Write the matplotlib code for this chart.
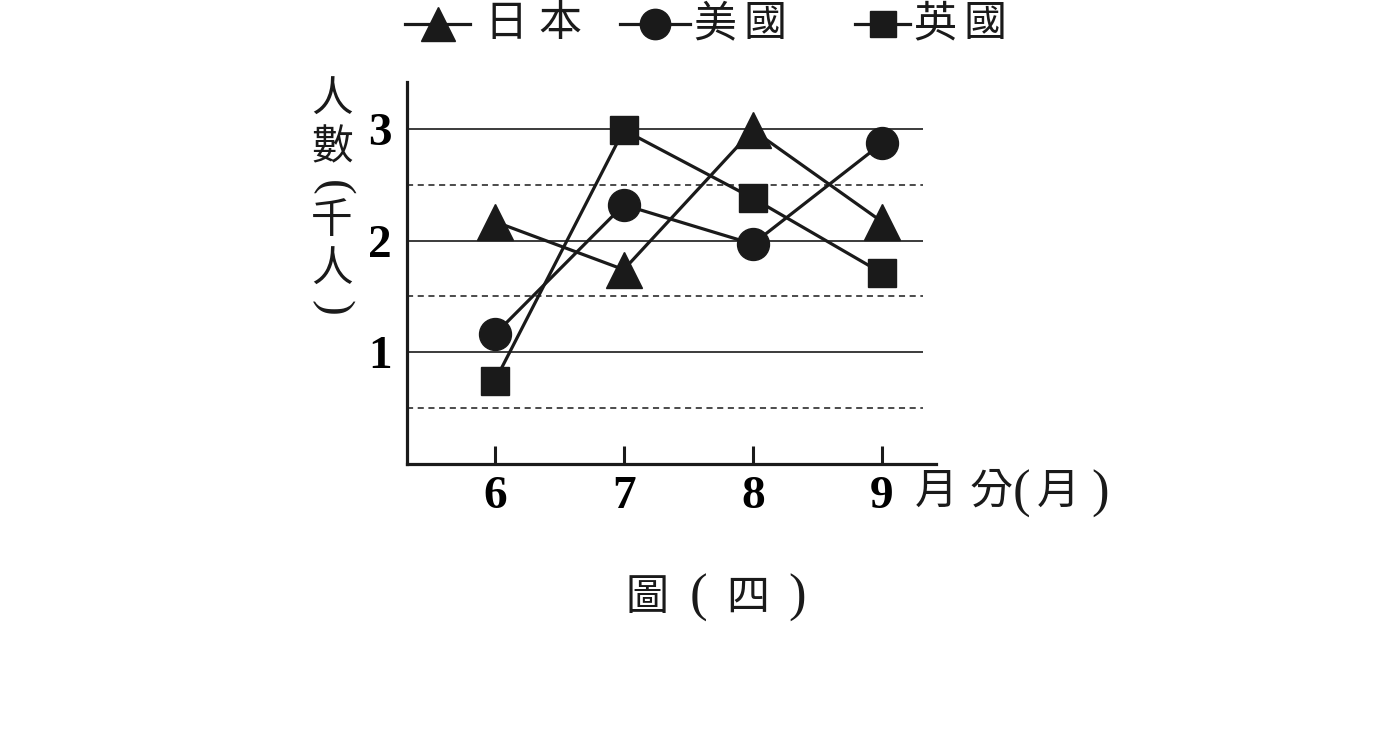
import matplotlib.pyplot as plt
from matplotlib.lines import Line2D

months = [6, 7, 8, 9]
japan = [2.17, 1.74, 2.99, 2.17]
usa = [1.16, 2.32, 1.97, 2.87]
uk = [0.74, 2.99, 2.38, 1.71]

names = ['日本', '美國', '英國']
solid_levels = [1, 2, 3]
dash_levels = [0.5, 1.5, 2.5]

ink = '#1a1a1a'
cjk = ['Noto Sans CJK TC', 'DejaVu Sans']
num_font = dict(family='Liberation Serif', weight='bold', size=34)

W, H = 1390, 753
fig = plt.figure(figsize=(W / 100, H / 100), dpi=100)
ax = fig.add_axes([407 / W, 1 - 464 / H, (936 - 407) / W, (464 - 82) / H])


def px(x, y):
    # pixel position (from top-left) -> figure fraction
    return x / W, 1 - y / H


x0, x_end = 5.32, 9.42
ax.set_xlim(x0, x_end)
ax.set_ylim(0, 3.42)

# grid lines: solid at whole numbers, dashed at halves
ax.hlines(solid_levels, x0, 9.32, colors=ink, lw=1.2, zorder=1)
ax.hlines(dash_levels, x0, 9.32, colors=ink, lw=1.1, linestyles=(0, (4, 3)), zorder=1)

kw = dict(color=ink, lw=2.3, zorder=3)
ax.plot(months, japan, marker='^', ms=26, **kw)
ax.plot(months, usa, marker='o', ms=23, **kw)
ax.plot(months, uk, marker='s', ms=20, **kw)

for s in ['top', 'right']:
    ax.spines[s].set_visible(False)
for s in ['left', 'bottom']:
    ax.spines[s].set_linewidth(2.3)
    ax.spines[s].set_color(ink)

ax.set_xticks(months)
ax.set_xticklabels([str(m) for m in months], fontdict=num_font)
ax.set_yticks(solid_levels)
ax.set_yticklabels([str(v) for v in solid_levels], fontdict=num_font)
ax.tick_params(axis='x', direction='in', length=13, width=2.2, color=ink, pad=9)
ax.tick_params(axis='y', length=0, pad=11)

# legend drawn by hand across the top
legend_items = [('^', 26, 405, 470, [506, 560]),
                ('o', 23, 620, 690, [715, 765]),
                ('s', 20, 855, 910, [935, 985])]
ly = 24
for (mk, ms, xa, xb, text_x), name in zip(legend_items, names):
    (fa, fy), (fb, _) = px(xa, ly), px(xb, ly)
    fig.add_artist(Line2D([fa, fb], [fy, fy], transform=fig.transFigure, color=ink, lw=2.3))
    fig.add_artist(Line2D([(fa + fb) / 2], [fy], transform=fig.transFigure, color=ink,
                          marker=mk, ms=ms * 0.95, lw=0))
    for ch, tx in zip(name, text_x):
        fig.text(*px(tx, ly), ch, ha='center', va='center', family=cjk, size=31, color=ink)

# vertical y label, one character per line
for ch, y in zip(['人', '數', '千', '人'], [100, 148, 222, 270]):
    fig.text(*px(332, y), ch, ha='center', va='center', family=cjk, size=30, color=ink)
fig.text(*px(332, 188), '(', ha='center', va='center', family='Liberation Serif',
         size=34, rotation=-90, color=ink)
fig.text(*px(332, 308), ')', ha='center', va='center', family='Liberation Serif',
         size=34, rotation=-90, color=ink)

# x axis unit
fig.text(*px(936, 492), '月', ha='center', va='center', family=cjk, size=31, color=ink)
fig.text(*px(991, 492), '分', ha='center', va='center', family=cjk, size=31, color=ink)
fig.text(*px(1058, 492), '月', ha='center', va='center', family=cjk, size=31, color=ink)
fig.text(*px(1021, 494), '(', ha='center', va='center', family='Liberation Serif',
         size=38, color=ink)
fig.text(*px(1100, 494), ')', ha='center', va='center', family='Liberation Serif',
         size=38, color=ink)

# caption
fig.text(*px(647, 598), '圖', ha='center', va='center', family=cjk, size=31, color=ink)
fig.text(*px(748, 598), '四', ha='center', va='center', family=cjk, size=31, color=ink)
fig.text(*px(698, 598), '(', ha='center', va='center', family='Liberation Serif',
         size=38, color=ink)
fig.text(*px(797, 598), ')', ha='center', va='center', family='Liberation Serif',
         size=38, color=ink)

fig.savefig('out.png', dpi=100)
